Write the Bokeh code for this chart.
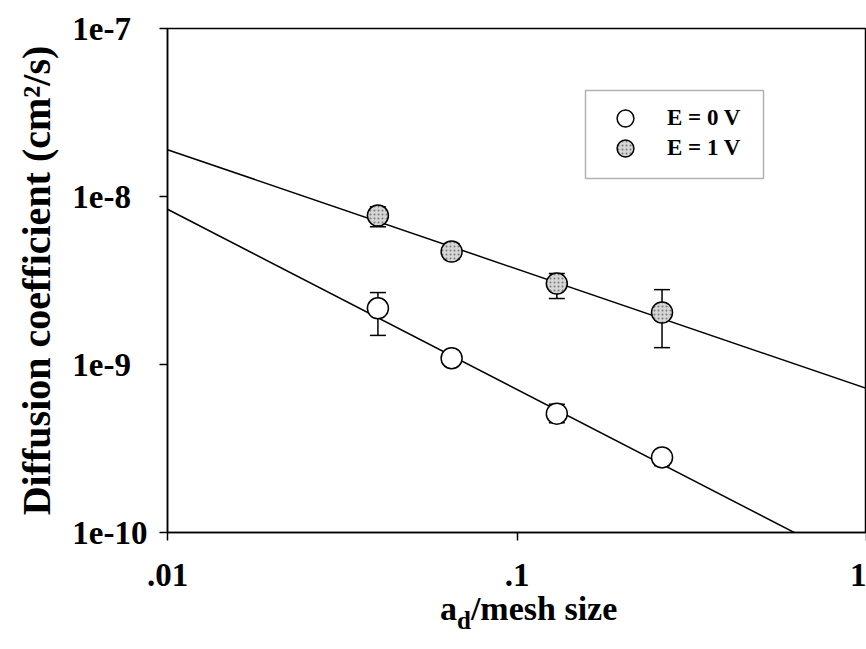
from bokeh.plotting import figure
from bokeh.layouts import column
from bokeh.models import (FixedTicker, Whisker, TeeHead, ColumnDataSource,
                          Legend, LegendItem, BoxAnnotation, Range1d, Div)
from bokeh.embed import file_html
from bokeh.resources import INLINE

# Measured diffusion coefficients (cm^2/s) vs a_d / mesh size
ratio = [0.04, 0.065, 0.13, 0.26]

d_e0 = [2.16e-9, 1.09e-9, 5.1e-10, 2.8e-10]
d_e0_lo = [1.49e-9, 1.04e-9, 4.5e-10, 2.5e-10]
d_e0_hi = [2.68e-9, 1.13e-9, 5.8e-10, 3.08e-10]

d_e1 = [7.7e-9, 4.7e-9, 3.03e-9, 2.04e-9]
d_e1_lo = [6.6e-9, 4.22e-9, 2.47e-9, 1.26e-9]
d_e1_hi = [8.7e-9, 5.25e-9, 3.48e-9, 2.79e-9]

# Power-law fit lines, evaluated at the ends of the x range
fit_x = [0.01, 1.0]
fit_e0 = [8.4e-9, 6.0e-11]
fit_e1 = [1.9e-8, 7.2e-10]

x_ticks = [0.01, 0.1, 1.0]
x_tick_labels = [".01", ".1", "1"]
y_ticks = [1e-10, 1e-9, 1e-8, 1e-7]
y_tick_labels = ["1e-10", "1e-9", "1e-8", "1e-7"]

series_labels = ["E = 0 V", "E = 1 V"]

FONT = "Liberation Serif"
W, H = 866, 649
PLOT_H = 604          # figure canvas; the x title sits in a strip underneath
FRAME_BOTTOM = 532

p = figure(width=W, height=PLOT_H, x_axis_type="log", y_axis_type="log",
           x_range=Range1d(0.01, 1.0), y_range=Range1d(1e-10, 1e-7),
           output_backend="svg", toolbar_location=None,
           min_border_left=167, min_border_right=0, min_border_top=28,
           min_border_bottom=PLOT_H - FRAME_BOTTOM)
p.background_fill_color = "white"
p.border_fill_color = "white"
p.outline_line_color = "black"
p.outline_line_width = 1.5
p.grid.visible = False

for ax in (p.xaxis[0], p.yaxis[0]):
    ax.axis_line_color = "black"
    ax.axis_line_width = 1.5
    ax.major_tick_line_color = "black"
    ax.major_tick_line_width = 1.5
    ax.minor_tick_line_color = None
    ax.major_tick_in = 0
    ax.major_tick_out = 8
    ax.major_label_text_font = FONT
    ax.major_label_text_font_style = "bold"
    ax.major_label_text_font_size = "33px"
    ax.major_label_text_color = "black"

p.xaxis.ticker = FixedTicker(ticks=x_ticks)
p.xaxis.major_label_overrides = dict(zip(x_ticks, x_tick_labels))
p.xaxis.major_label_standoff = 23

# y labels share a common left edge: pad the shorter ones with a figure space
longest = max(len(s) for s in y_tick_labels)
p.yaxis.ticker = FixedTicker(ticks=y_ticks)
p.yaxis.major_label_overrides = {
    t: s + "\u2007" * (longest - len(s)) for t, s in zip(y_ticks, y_tick_labels)}
p.yaxis.major_label_standoff = 12

p.yaxis.axis_label = "Diffusion coefficient (cm\u00b2/s)"
p.yaxis.axis_label_text_font = FONT
p.yaxis.axis_label_text_font_style = "bold"
p.yaxis.axis_label_text_font_size = "40px"
p.yaxis.axis_label_text_color = "black"
p.yaxis.axis_label_standoff = 10

# fit lines
p.line(fit_x, fit_e0, line_color="black", line_width=1.5)
p.line(fit_x, fit_e1, line_color="black", line_width=1.5)

# error bars
src0 = ColumnDataSource(dict(x=ratio, lo=d_e0_lo, hi=d_e0_hi))
src1 = ColumnDataSource(dict(x=ratio, lo=d_e1_lo, hi=d_e1_hi))
for src in (src0, src1):
    p.add_layout(Whisker(source=src, base="x", lower="lo", upper="hi",
                         line_color="black", line_width=1.5,
                         upper_head=TeeHead(size=16, line_color="black", line_width=1.5),
                         lower_head=TeeHead(size=16, line_color="black", line_width=1.5)))

r0 = p.scatter(ratio, d_e0, size=21, marker="circle", fill_color="white",
               line_color="black", line_width=1.5)
r1 = p.scatter(ratio, d_e1, size=21, marker="circle", fill_color="#d6d6d6",
               hatch_pattern="dot", hatch_color="#7a7a7a", hatch_scale=4,
               line_color="black", line_width=1.5)

# legend: one framed box holding two single-entry legends
# (screen units are measured from the frame's bottom-left corner)
p.add_layout(BoxAnnotation(left=418, right=596, bottom=354, top=442,
                           left_units="screen", right_units="screen",
                           bottom_units="screen", top_units="screen",
                           fill_color="white", fill_alpha=1.0,
                           line_color="black", line_width=1.5))

for renderer, text, y0 in ((r0, series_labels[0], 393), (r1, series_labels[1], 363)):
    lg = Legend(items=[LegendItem(label=text, renderers=[renderer])],
                location=(437, y0))
    lg.border_line_color = None
    lg.background_fill_alpha = 0.0
    lg.padding = 0
    lg.margin = 0
    lg.spacing = 0
    lg.glyph_width = 42
    lg.glyph_height = 42
    lg.label_height = 20
    lg.label_standoff = 21
    lg.label_text_font = FONT
    lg.label_text_font_style = "bold"
    lg.label_text_font_size = "23px"
    lg.label_text_color = "black"
    p.add_layout(lg, "center")

# x-axis title with a subscripted "d", in a strip below the figure
x_title = Div(
    text=("<div style=\"padding-left:440px; font-family:'Liberation Serif'; "
          "font-weight:bold; font-size:34px; line-height:9px; white-space:nowrap; "
          "color:black;\">a<sub style=\"font-size:25px; line-height:0; "
          "vertical-align:-9px;\">d</sub>/mesh size</div>"),
    width=W, height=H - PLOT_H, margin=(0, 0, 0, 0))

layout = column(p, x_title, spacing=0)
open("out.html", "w").write(file_html(layout, INLINE))
